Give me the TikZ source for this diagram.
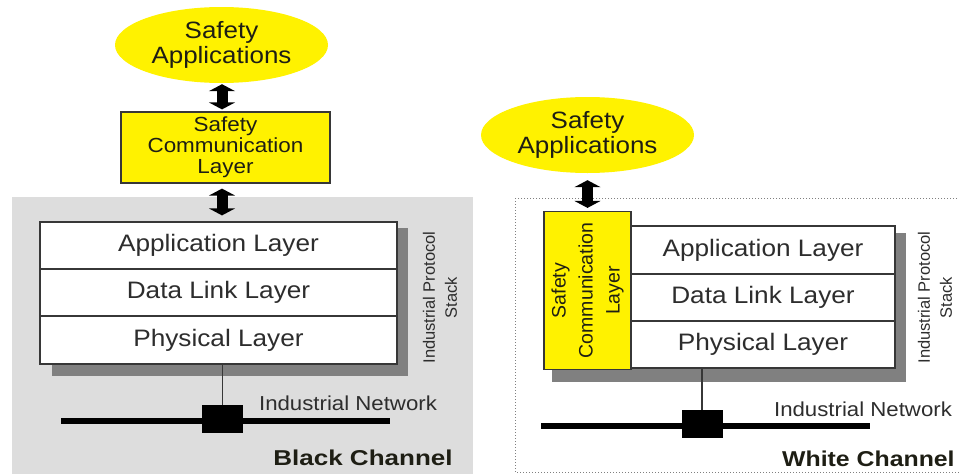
\documentclass[tikz,border=0pt]{standalone}
\usepackage{graphicx}
\usepackage{fontspec}
\setmainfont{Liberation Sans}[FakeStretch=1.1]
\newfontfamily\plainsf{Liberation Sans}
\usetikzlibrary{arrows.meta,shapes.geometric}
\definecolor{appyellow}{RGB}{255,242,0}
\definecolor{bggray}{RGB}{221,221,221}
\definecolor{shadowgray}{RGB}{128,128,128}
\definecolor{txtgray}{RGB}{45,45,45}
\definecolor{edgegray}{RGB}{55,55,55}
\definecolor{darktxt}{RGB}{30,30,20}
\begin{document}
\begin{tikzpicture}[x=1pt,y=-1pt,
  appell/.style={ellipse, fill=appyellow, minimum width=213pt, minimum height=76pt, inner sep=0pt, align=center, font=\fontsize{23.6}{25}\selectfont, text=darktxt},
  sclbox/.style={rectangle, draw=edgegray, line width=1.2pt, fill=appyellow, inner sep=0pt, align=center, text=darktxt},
  layerbox/.style={rectangle, draw=edgegray, line width=1.2pt, fill=white, inner sep=0pt, font=\fontsize{23.8}{25}\selectfont, text=txtgray},
  bigarrow/.style={line width=11pt, {Triangle[width=26pt,length=7pt]}-{Triangle[width=26pt,length=7pt]}},
  netline/.style={line width=6pt, line cap=butt},
  drop/.style={line width=1.5pt, draw=edgegray},
  netsq/.style={rectangle, fill=black, minimum width=41pt, minimum height=28pt, inner sep=0pt},
  netlbl/.style={inner sep=0pt, font=\fontsize{20.2}{22}\selectfont, text=txtgray},
  chanlbl/.style={inner sep=0pt, font=\bfseries\fontsize{21.5}{22}\selectfont, text=darktxt},
  stacklbl/.style={rotate=90, inner sep=0pt, align=center, font=\plainsf\fontsize{16.5}{22}\selectfont, text=txtgray}
]
\useasboundingbox (0,0) rectangle (959,474);

% ---------- Black channel (left) ----------
\fill[bggray] (12,197) rectangle (473,474);
\fill[shadowgray] (52,228) rectangle (408,376);

\node[appell] (ell1) at (221.5,45) {Safety\\Applications};
\node[sclbox, minimum width=209pt, minimum height=71pt, font=\fontsize{20.4}{21}\selectfont] (scl1) at (225.5,147.5) {Safety\\Communication\\Layer};

\node[layerbox, minimum width=357pt, minimum height=47pt] (appl1) at (218.5,245.5) {Application Layer};
\node[layerbox, minimum width=357pt, minimum height=47pt] (dll1) at (218.5,292.5) {Data Link Layer};
\node[layerbox, minimum width=357pt, minimum height=48pt] (phy1) at (218.5,340) {Physical Layer};

\draw[bigarrow, shorten <=1pt, shorten >=2pt] (ell1.south -| 222,0) -- (scl1.north -| 222,0);
\draw[bigarrow, shorten <=5pt, shorten >=6pt] (scl1.south -| 222,0) -- (appl1.north -| 222,0);

\node[stacklbl] (ips1) at (440,297.5) {Industrial Protocol\\Stack};

\coordinate (net1L) at (61,421);
\coordinate (net1R) at (390,421);
\draw[netline] (net1L) -- (net1R);
\node[netsq] (sq1) at (222.5,419) {};
\draw[drop] (sq1.north) -- (sq1.north |- phy1.south);
\node[netlbl] (nl1) at (348,403) {Industrial Network};
\node[chanlbl] (ch1) at (363,458) {\scalebox{1.1}[1]{Black Channel}};

% ---------- White channel (right) ----------
\draw[dotted, gray, line width=1pt] (515,198) rectangle (975,472);
\fill[shadowgray] (552,233) rectangle (906,382);

\node[appell] (ell2) at (587.5,135) {Safety\\Applications};
\node[sclbox, rotate=90, minimum width=158pt, minimum height=87pt, font=\plainsf\fontsize{19.5}{27}\selectfont] (scl2) at (587.5,290.5) {Safety\\Communication\\Layer};

\node[layerbox, minimum width=264pt, minimum height=48pt] (appl2) at (763,250) {Application Layer};
\node[layerbox, minimum width=264pt, minimum height=47pt] (dll2) at (763,297.5) {Data Link Layer};
\node[layerbox, minimum width=264pt, minimum height=47pt] (phy2) at (763,344.5) {Physical Layer};

\draw[bigarrow, shorten <=7pt, shorten >=3pt] (ell2.south) -- (scl2.east);

\node[stacklbl] (ips2) at (935,297.5) {Industrial Protocol\\Stack};

\coordinate (net2L) at (541,426);
\coordinate (net2R) at (870,426);
\draw[netline] (net2L) -- (net2R);
\node[netsq] (sq2) at (702,424) {};
\draw[drop] (sq2.north) -- (sq2.north |- phy2.south);
\node[netlbl] (nl2) at (863,409) {Industrial Network};
\node[chanlbl, anchor=west] (ch2) at (782,459) {\scalebox{1.05}[1]{White Channel}};
\end{tikzpicture}
\end{document}
